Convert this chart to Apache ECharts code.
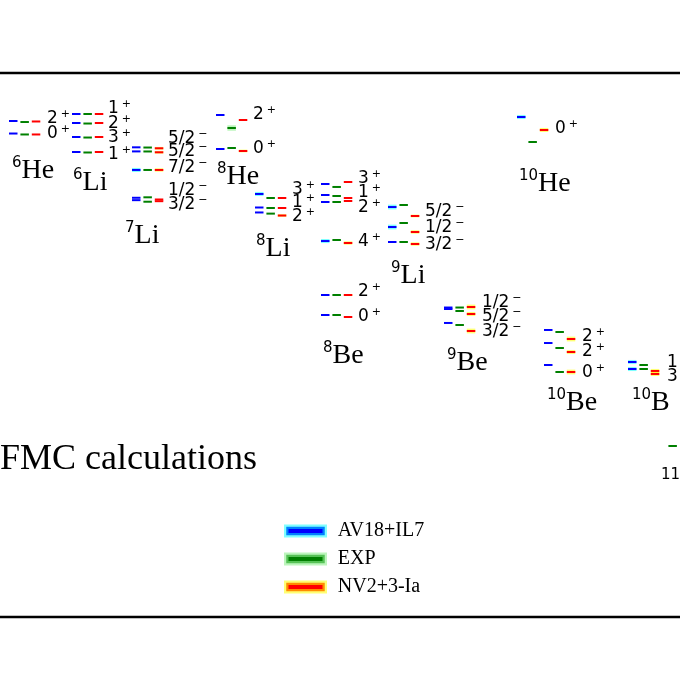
<!DOCTYPE html>
<html>
<head>
<meta charset="utf-8">
<script src="https://cdn.jsdelivr.net/npm/echarts@6/dist/echarts.min.js"></script>
<style>
html, body { margin: 0; padding: 0; background: #fff; }
#chart { width: 680px; height: 680px; }
</style>
</head>
<body>
<div id="chart"></div>
<script>
// nuclei from left to right: [mass number, element]
const nuclei = [
  ['6', 'He'], ['6', 'Li'], ['7', 'Li'], ['8', 'He'], ['8', 'Li'], ['8', 'Be'],
  ['9', 'Li'], ['9', 'Be'], ['10', 'He'], ['10', 'Be'], ['10', 'B'], ['11', 'B'],
]

// levels: [nucleus index, energy (MeV), error half width (MeV)]
const av18il7 = [
  [0, -27.06, 0], [0, -28.90, 0],
  [1, -26.03, 0], [1, -27.35, 0], [1, -29.41, 0], [1, -31.62, 0],
  [2, -30.93, 0], [2, -31.53, 0], [2, -34.26, 0.3], [2, -38.35, 0], [2, -38.70, 0],
  [3, -26.18, 0], [3, -31.18, 0],
  [4, -37.79, 0.3], [4, -39.78, 0], [4, -40.51, 0],
  [5, -36.32, 0], [5, -37.94, 0], [5, -38.97, 0], [5, -44.71, 0.3], [5, -52.65, 0], [5, -55.59, 0],
  [6, -39.71, 0.35], [6, -42.65, 0.35], [6, -44.85, 0],
  [7, -54.49, 0], [7, -54.71, 0], [7, -56.76, 0],
  [8, -26.47, 0.3],
  [9, -57.79, 0], [9, -59.71, 0], [9, -62.94, 0],
  [10, -62.50, 0.3], [10, -63.53, 0.3],
]
const exp = [
  [0, -27.21, 0], [0, -29.04, 0],
  [1, -26.03, 0], [1, -27.43, 0], [1, -29.49, 0], [1, -31.69, 0],
  [2, -30.96, 0], [2, -31.54, 0], [2, -34.26, 0], [2, -38.28, 0], [2, -38.93, 0],
  [3, -28.09, 0.4], [3, -31.03, 0],
  [4, -38.38, 0], [4, -39.85, 0], [4, -40.68, 0],
  [5, -36.76, 0], [5, -38.09, 0], [5, -38.97, 0], [5, -44.56, 0], [5, -52.65, 0], [5, -55.59, 0],
  [6, -39.41, 0], [6, -42.06, 0], [6, -44.85, 0],
  [7, -54.49, 0], [7, -55.00, 0], [7, -57.06, 0],
  [8, -30.15, 0],
  [9, -58.09, 0], [9, -60.44, 0], [9, -63.97, 0],
  [10, -62.94, 0], [10, -63.53, 0],
  [11, -74.85, 0],
]
const nv2 = [
  [0, -27.13, 0], [0, -29.04, 0],
  [1, -26.03, 0], [1, -27.35, 0], [1, -29.41, 0], [1, -31.62, 0],
  [2, -31.07, 0.2], [2, -31.66, 0.2], [2, -34.26, 0.25], [2, -38.60, 0], [2, -38.85, 0],
  [3, -26.91, 0], [3, -31.47, 0.2],
  [4, -38.38, 0], [4, -39.85, 0], [4, -40.96, 0.2],
  [5, -36.03, 0], [5, -38.38, 0], [5, -38.82, 0], [5, -45.00, 0.25], [5, -52.65, 0.15], [5, -55.88, 0],
  [6, -41.03, 0.2], [6, -43.38, 0.25], [6, -45.15, 0.25],
  [7, -54.41, 0.35], [7, -55.44, 0.3], [7, -57.94, 0.35],
  [8, -28.38, 0.3],
  [9, -59.12, 0.35], [9, -61.03, 0.3], [9, -63.97, 0.35],
  [10, -63.82, 0.3], [10, -64.26, 0.3],
]

// spin-parity labels: [nucleus index, J, parity, energy of label]
const spins = [
  [0, '2', '+', -26.74], [0, '0', '+', -28.93],
  [1, '1', '+', -25.29], [1, '2', '+', -27.50], [1, '3', '+', -29.56], [1, '1', '+', -32.06],
  [2, '5/2', '−', -29.71], [2, '5/2', '−', -31.62], [2, '7/2', '−', -33.97], [2, '1/2', '−', -37.35], [2, '3/2', '−', -39.41],
  [3, '2', '+', -26.18], [3, '0', '+', -31.18],
  [4, '3', '+', -37.21], [4, '1', '+', -39.12], [4, '2', '+', -41.18],
  [5, '3', '+', -35.59], [5, '1', '+', -37.65], [5, '2', '+', -39.85], [5, '4', '+', -44.85], [5, '2', '+', -52.21], [5, '0', '+', -55.88],
  [6, '5/2', '−', -40.44], [6, '1/2', '−', -42.79], [6, '3/2', '−', -45.29],
  [7, '1/2', '−', -53.82], [7, '5/2', '−', -55.88], [7, '3/2', '−', -58.09],
  [8, '0', '+', -28.24],
  [9, '2', '+', -58.82], [9, '2', '+', -61.03], [9, '0', '+', -64.00],
  [10, '1', '+', -62.65], [10, '3', '+', -64.71],
]

// layout (x in axis units = pixels)
const colX = [9, 72, 132, 216, 255, 321, 388, 444, 517, 544, 628, 657]
const spinX = [47, 108, 168, 253, 292, 358, 425, 482, 555, 582, 667, 700]
const namePos = [
  [12, -34.41], [73, -36.18], [125, -43.97], [217, -35.29], [256, -45.88], [323, -61.62],
  [391, -49.85], [447, -62.65], [519, -36.32], [547, -68.53], [632, -68.53], [661, -80.29],
]
const SEG = 8.5
const STEP = 11.4

const methods = [
  { name: 'AV18+IL7', data: av18il7, core: '#0000ff', halo: 'rgba(0,255,255,0.5)' },
  { name: 'EXP', data: exp, core: '#008000', halo: 'rgba(144,238,144,0.6)' },
  { name: 'NV2+3-Ia', data: nv2, core: '#ff0000', halo: 'rgba(255,255,0,0.55)' },
]

function levelRenderer(slot, core, halo) {
  return function (params, api) {
    const nuc = api.value(0)
    const e = api.value(1)
    const err = api.value(2)
    const x0 = colX[nuc] + slot * STEP
    const p0 = api.coord([x0, e])
    const p1 = api.coord([x0 + SEG, e])
    const children = []
    if (err > 0) {
      const h = api.size([0, err])[1]
      children.push({
        type: 'rect',
        shape: { x: p0[0], y: p0[1] - h, width: p1[0] - p0[0], height: 2 * h },
        style: { fill: halo },
      })
    }
    children.push({
      type: 'line',
      shape: { x1: p0[0], y1: p0[1], x2: p1[0], y2: p1[1] },
      style: { stroke: core, lineWidth: 2 },
    })
    return { type: 'group', children: children }
  }
}

const spinRich = {
  m: { fontFamily: 'DejaVu Sans', fontSize: 17, lineHeight: 20, fill: '#000' },
  s: { fontFamily: 'DejaVu Sans', fontSize: 11, lineHeight: 9, verticalAlign: 'top', padding: [0, 0, 0, 3], fill: '#000' },
}
const nameRich = {
  a: { fontFamily: 'DejaVu Sans', fontSize: 15, lineHeight: 11, verticalAlign: 'top', fill: '#000' },
  n: { fontFamily: 'Liberation Serif', fontSize: 28, lineHeight: 30, fill: '#000' },
}

const series = methods.map((m, i) => ({
  name: m.name,
  type: 'custom',
  coordinateSystem: 'cartesian2d',
  itemStyle: { color: m.core },
  encode: { x: 0, y: 1 },
  renderItem: levelRenderer(i, m.core, m.halo),
  data: m.data,
  z: 3 + i,
}))

series.push({
  type: 'custom',
  coordinateSystem: 'cartesian2d',
  silent: true,
  encode: { x: 0, y: 1 },
  renderItem: function (params, api) {
    const s = spins[params.dataIndex]
    const p = api.coord([spinX[s[0]], s[3]])
    return {
      type: 'text',
      x: p[0],
      y: p[1],
      style: { text: '{m|' + s[1] + '}{s|' + s[2] + '}', rich: spinRich, align: 'left', verticalAlign: 'middle' },
    }
  },
  data: spins.map(s => [s[0], s[3]]),
  z: 10,
})

series.push({
  type: 'custom',
  coordinateSystem: 'cartesian2d',
  silent: true,
  encode: { x: 0, y: 1 },
  renderItem: function (params, api) {
    const n = nuclei[params.dataIndex]
    const pos = namePos[params.dataIndex]
    const p = api.coord(pos)
    return {
      type: 'text',
      x: p[0],
      y: p[1],
      style: { text: '{a|' + n[0] + '}{n|' + n[1] + '}', rich: nameRich, align: 'left', verticalAlign: 'middle' },
    }
  },
  data: namePos,
  z: 10,
})

const myChart = echarts.init(document.getElementById('chart'))
const option = {
  animation: false,
  backgroundColor: '#fff',
  title: {
    text: 'GFMC calculations',
    left: -26,
    top: 442,
    padding: 0,
    textStyle: { fontFamily: 'Liberation Serif', fontSize: 36, fontWeight: 'normal', color: '#000' },
  },
  legend: {
    orient: 'vertical',
    left: 284,
    top: 521,
    padding: 0,
    itemGap: 8,
    itemWidth: 38.5,
    itemHeight: 8.5,
    icon: 'rect',
    selectedMode: false,
    textStyle: { fontFamily: 'Liberation Serif', fontSize: 20, color: '#000', padding: [0, 0, 0, 8] },
    data: methods.map(m => ({
      name: m.name,
      itemStyle: { color: m.core, borderColor: m.halo, borderWidth: 4.5 },
    })),
  },
  grid: {
    show: true,
    left: -20,
    right: -20,
    top: 73,
    bottom: 63,
    outerBoundsMode: 'none',
    containLabel: false,
    borderColor: '#000',
    borderWidth: 2.5,
  },
  xAxis: { type: 'value', min: -20, max: 700, show: false },
  yAxis: { type: 'value', min: -100, max: -20, show: false },
  series: series,
}
myChart.setOption(option)
</script>
</body>
</html>
